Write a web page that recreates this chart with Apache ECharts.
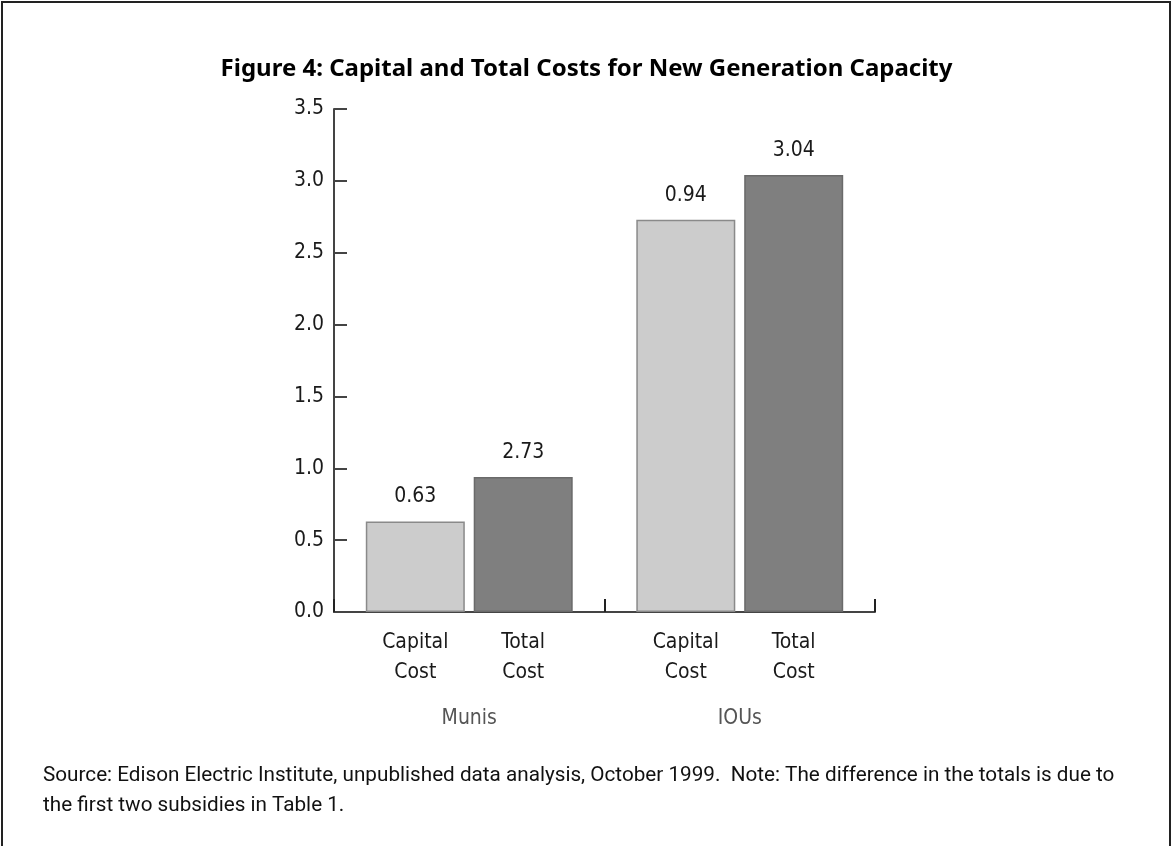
<!DOCTYPE html>
<html>
<head>
<meta charset="utf-8">
<script src="https://cdn.jsdelivr.net/npm/echarts@6/dist/echarts.min.js"></script>
<style>
  html, body { margin: 0; padding: 0; background: #fff; }
  #chart { position: absolute; left: 0; top: 0; width: 1173px; height: 846px; }
  #frame { position: absolute; left: 1px; top: 1px; width: 1166px; height: 900px;
           border: 2px solid #222; border-bottom: none; pointer-events: none; }
</style>
</head>
<body>
<div id="chart"></div>
<div id="frame"></div>
<script>
  // groups on the x axis
  const groups = ['Munis', 'IOUs']
  // bar heights
  const capitalValues = [0.63, 2.73]
  const totalValues = [0.94, 3.04]
  // labels printed above the bars (as printed in the source figure)
  const capitalLabels = ['0.63', '0.94']
  const totalLabels = ['2.73', '3.04']
  const yTicks = [0, 0.5, 1.0, 1.5, 2.0, 2.5, 3.0, 3.5]

  const narrow = '"DejaVu Sans Condensed", "Liberation Sans Narrow", sans-serif'
  const barWidth = 99
  const barGap = '9%'

  const chart = echarts.init(document.getElementById('chart'))

  // zero-height helper bar that only carries the name under each bar
  function nameBar (stack, text) {
    return {
      type: 'bar',
      stack: stack,
      barWidth: barWidth,
      barGap: barGap,
      silent: true,
      data: groups.map(() => 0),
      itemStyle: { color: 'transparent', borderWidth: 0 },
      label: {
        show: true,
        position: 'bottom',
        distance: 16,
        formatter: text,
        fontFamily: narrow,
        fontSize: 21,
        lineHeight: 30,
        color: '#1a1a1a'
      }
    }
  }

  function valueBar (stack, values, labels, color, border) {
    return {
      type: 'bar',
      stack: stack,
      barWidth: barWidth,
      barGap: barGap,
      data: values,
      itemStyle: { color: color, borderColor: border, borderWidth: 1.5 },
      label: {
        show: true,
        position: 'top',
        distance: 14,
        formatter: p => labels[p.dataIndex],
        fontFamily: narrow,
        fontSize: 21,
        color: '#1a1a1a'
      }
    }
  }

  chart.setOption({
    animation: false,
    title: [{
      text: 'Figure 4: Capital and Total Costs for New Generation Capacity',
      left: 'center',
      top: 52,
      textStyle: { fontFamily: '"Noto Sans", Lato, sans-serif', fontWeight: 'bold', fontSize: 24, color: '#000' }
    }, {
      text: 'Source: Edison Electric Institute, unpublished data analysis, October 1999.  Note: The difference in the totals is due to\nthe first two subsidies in Table 1.',
      left: 38,
      top: 756,
      textStyle: { fontFamily: 'Roboto, sans-serif', fontWeight: 'normal', fontSize: 20.7, lineHeight: 30, color: '#111' }
    }],
    grid: { left: 334, right: 298, top: 109, bottom: 234 },
    xAxis: {
      type: 'category',
      data: groups,
      axisLine: { lineStyle: { color: '#444', width: 2 } },
      axisTick: { show: true, inside: true, length: 13, lineStyle: { color: '#222', width: 2 } },
      axisLabel: { margin: 96, fontFamily: narrow, fontSize: 21, color: '#555' },
      splitLine: { show: false }
    },
    yAxis: {
      type: 'value',
      min: yTicks[0],
      max: yTicks[yTicks.length - 1],
      interval: 0.5,
      axisLine: { show: true, lineStyle: { color: '#444', width: 2 } },
      axisTick: { show: true, inside: true, length: 13, lineStyle: { color: '#444', width: 2 } },
      axisLabel: { margin: 10, fontFamily: narrow, fontSize: 21, color: '#1a1a1a', formatter: v => v.toFixed(1) },
      splitLine: { show: false }
    },
    series: [
      nameBar('cap', 'Capital\nCost'),
      valueBar('cap', capitalValues, capitalLabels, '#cccccc', '#8a8a8a'),
      nameBar('tot', 'Total\nCost'),
      valueBar('tot', totalValues, totalLabels, '#7f7f7f', '#6a6a6a')
    ]
  })
</script>
</body>
</html>
